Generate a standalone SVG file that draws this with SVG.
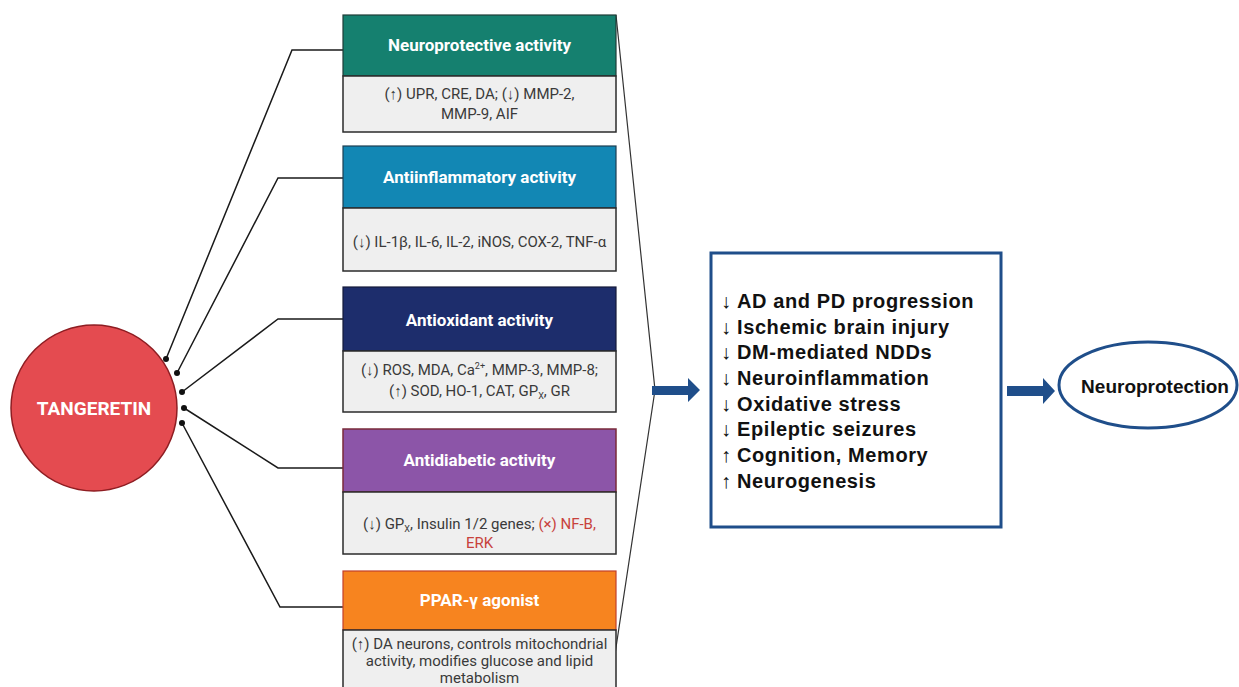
<svg xmlns="http://www.w3.org/2000/svg" width="1239" height="687" viewBox="0 0 1239 687">
<style>
.hd{font-family:Roboto,"Liberation Sans",sans-serif;font-weight:bold;font-size:17px;fill:#fff;text-anchor:middle}
.bd{font-family:Roboto,"Liberation Sans",sans-serif;font-size:15px;fill:#3a3a3a;text-anchor:middle}
.body{fill:#efefef;stroke:#2b2b2b;stroke-width:1.5}
.conn{fill:none;stroke:#1a1a1a;stroke-width:1.5}
.lst{font-family:"Liberation Sans",Arial,sans-serif;font-weight:bold;font-size:20px;letter-spacing:0.6px;fill:#111}
.ar{font-weight:normal;letter-spacing:0}
.red{fill:#c8423d}
.blue{fill:#1f4e8a}
</style>
<rect width="1239" height="687" fill="#fff"/>

<g id="connectors">
<polyline class="conn" points="166,359 292,50 343,50"/>
<polyline class="conn" points="177,373 278,178 343,178"/>
<polyline class="conn" points="182,392 278,319 343,319"/>
<polyline class="conn" points="184,408 278,468 343,468"/>
<polyline class="conn" points="182,423 280,607 343,607"/>
<g fill="#111">
<circle cx="166" cy="359" r="3"/>
<circle cx="177" cy="373" r="3"/>
<circle cx="182" cy="392" r="3"/>
<circle cx="184" cy="408" r="3"/>
<circle cx="182" cy="423" r="3"/>
</g>
<polyline fill="none" stroke="#333" stroke-width="1.2" points="616,15 655,390 610,687"/>
<polygon class="blue" points="652,386 688,386 688,378 700,390 688,402 688,395 652,395"/>
<polygon class="blue" points="1007,386 1043,386 1043,378 1055,391 1043,404 1043,396 1007,396"/>
</g>

<g id="tangeretin">
<circle cx="94" cy="408" r="83" fill="#e44b50" stroke="#8e1d22" stroke-width="1.5"/>
<text x="94" y="415" font-family="Roboto,'Liberation Sans',sans-serif" font-weight="bold" font-size="19" fill="#fff" text-anchor="middle">TANGERETIN</text>
</g>

<g id="neuroprotective">
<rect x="343" y="15" width="273" height="61" fill="#15806f" stroke="#1f3d38" stroke-width="1.2"/>
<rect class="body" x="343" y="76" width="273" height="56"/>
<text class="hd" x="479.5" y="51">Neuroprotective activity</text>
<text class="bd" x="479.5" y="99">(↑) UPR, CRE, DA; (↓) MMP-2,</text>
<text class="bd" x="479.5" y="119">MMP-9, AIF</text>
</g>

<g id="antiinflammatory">
<rect x="343" y="146" width="273" height="62" fill="#1287b4" stroke="#1d3f52" stroke-width="1.2"/>
<rect class="body" x="343" y="208" width="273" height="63"/>
<text class="hd" x="479.5" y="183">Antiinflammatory activity</text>
<text class="bd" x="479.5" y="247">(↓) IL-1β, IL-6, IL-2, iNOS, COX-2, TNF-α</text>
</g>

<g id="antioxidant">
<rect x="343" y="287" width="273" height="64" fill="#1d2d6c" stroke="#141a3a" stroke-width="1.2"/>
<rect class="body" x="343" y="351" width="273" height="61"/>
<text class="hd" x="479.5" y="326">Antioxidant activity</text>
<text class="bd" x="479.5" y="375">(↓) ROS, MDA, Ca<tspan font-size="9" dy="-6">2+</tspan><tspan dy="6">, MMP-3, MMP-8;</tspan></text>
<text class="bd" x="479.5" y="396">(↑) SOD, HO-1, CAT, GP<tspan font-size="9" dy="3">X</tspan><tspan dy="-3">, GR</tspan></text>
</g>

<g id="antidiabetic">
<rect x="343" y="429" width="273" height="63" fill="#8c55a8" stroke="#7a2a3a" stroke-width="1.5"/>
<rect class="body" x="343" y="492" width="273" height="62"/>
<text class="hd" x="479.5" y="466">Antidiabetic activity</text>
<text class="bd" x="479.5" y="529">(↓) GP<tspan font-size="9" dy="3">X</tspan><tspan dy="-3">, Insulin 1/2 genes; </tspan><tspan class="red">(×) NF-B,</tspan></text>
<text class="bd red" x="479.5" y="548">ERK</text>
</g>

<g id="ppar">
<rect x="343" y="571" width="273" height="59" fill="#f7841f" stroke="#c2402a" stroke-width="1.2"/>
<rect class="body" x="343" y="630" width="273" height="70"/>
<text class="hd" x="479.5" y="606">PPAR-γ agonist</text>
<text class="bd" x="479.5" y="649">(↑) DA neurons, controls mitochondrial</text>
<text class="bd" x="479.5" y="666">activity, modifies glucose and lipid</text>
<text class="bd" x="479.5" y="683">metabolism</text>
</g>

<g id="outcomes">
<rect x="711" y="253" width="290" height="274" fill="#fff" stroke="#1f4e8a" stroke-width="3"/>
<text class="lst" x="721" y="308"><tspan class="ar">↓</tspan><tspan x="737">AD and PD progression</tspan></text>
<text class="lst" x="721" y="334"><tspan class="ar">↓</tspan><tspan x="737">Ischemic brain injury</tspan></text>
<text class="lst" x="721" y="359"><tspan class="ar">↓</tspan><tspan x="737">DM-mediated NDDs</tspan></text>
<text class="lst" x="721" y="385"><tspan class="ar">↓</tspan><tspan x="737">Neuroinflammation</tspan></text>
<text class="lst" x="721" y="411"><tspan class="ar">↓</tspan><tspan x="737">Oxidative stress</tspan></text>
<text class="lst" x="721" y="436"><tspan class="ar">↓</tspan><tspan x="737">Epileptic seizures</tspan></text>
<text class="lst" x="721" y="462"><tspan class="ar">↑</tspan><tspan x="737">Cognition, Memory</tspan></text>
<text class="lst" x="721" y="488"><tspan class="ar">↑</tspan><tspan x="737">Neurogenesis</tspan></text>
</g>

<g id="neuroprotection">
<ellipse cx="1148" cy="385" rx="89" ry="43" fill="#fff" stroke="#1f4e8a" stroke-width="3"/>
<text x="1155" y="393" font-family="'Liberation Sans',Arial,sans-serif" font-weight="bold" font-size="19" fill="#111" text-anchor="middle">Neuroprotection</text>
</g>
</svg>
